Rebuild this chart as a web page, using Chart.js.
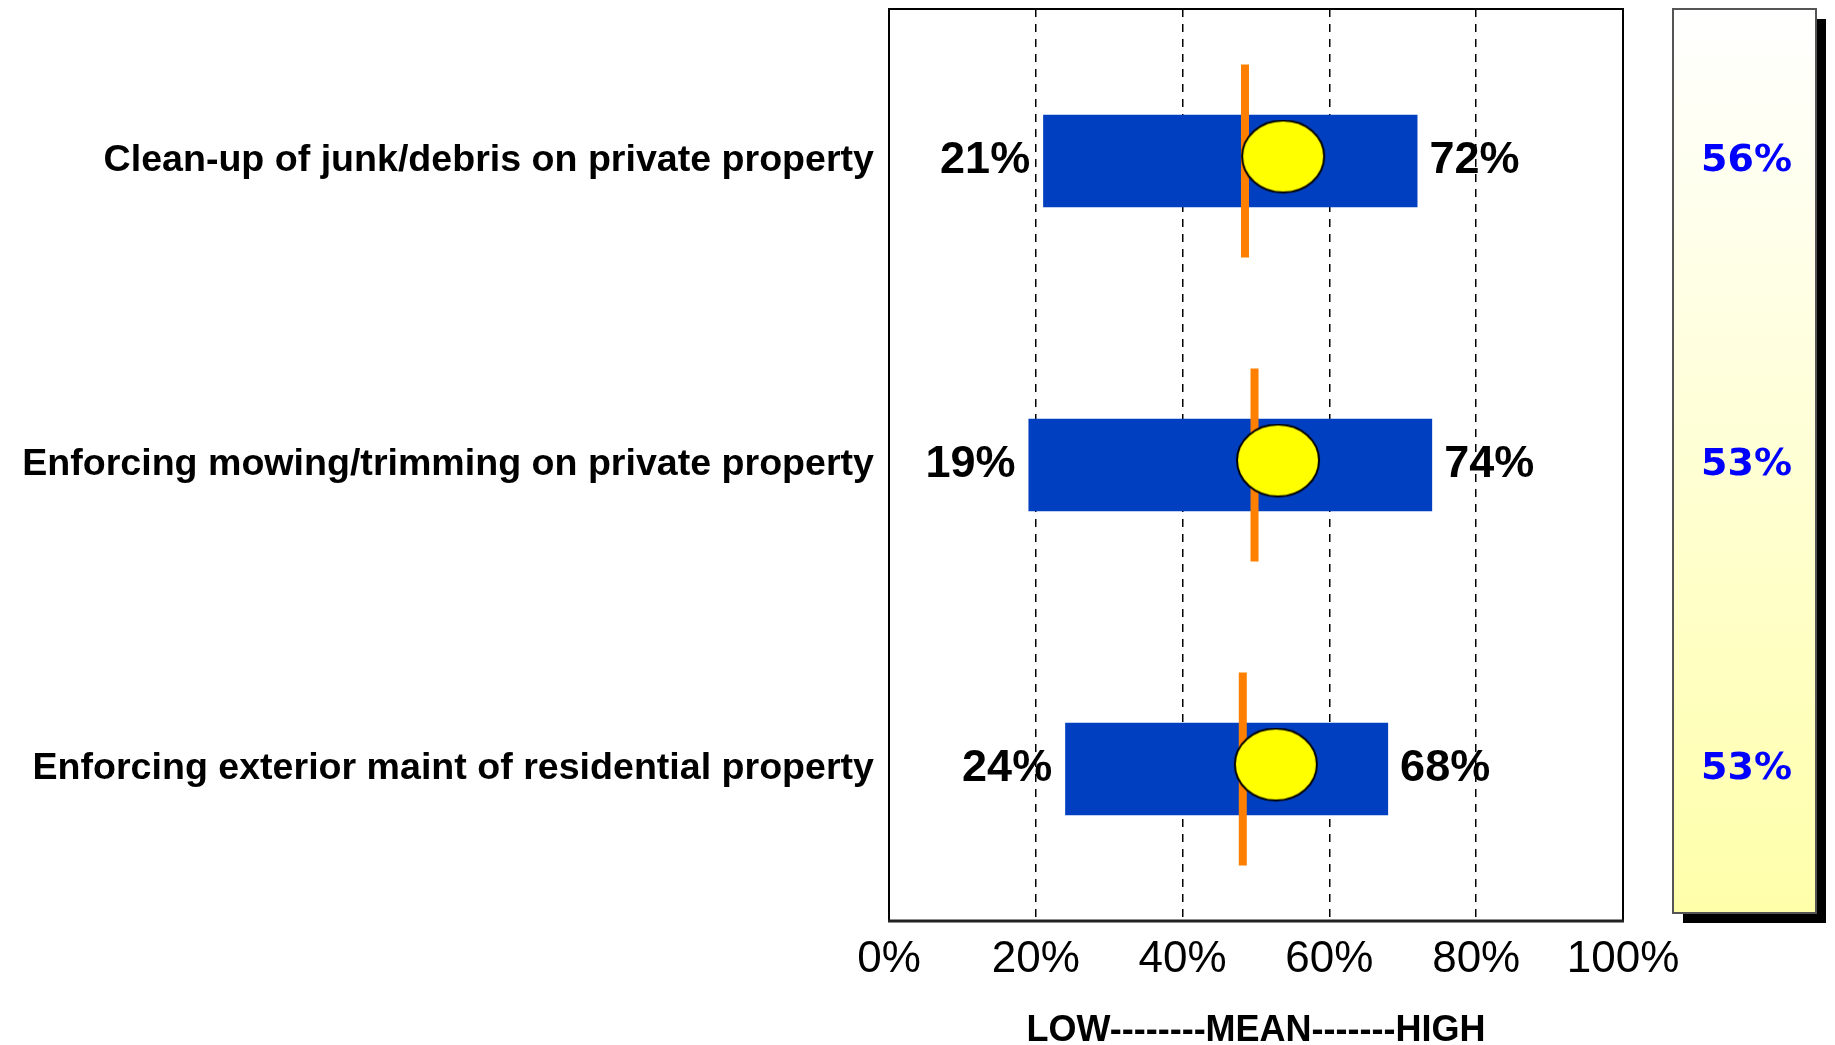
<!DOCTYPE html>
<html>
<head>
<meta charset="utf-8">
<script src="https://cdn.jsdelivr.net/npm/chart.js@4.4.0/dist/chart.umd.min.js"></script>
<style>
  html, body { margin: 0; padding: 0; background: #fff; }
  canvas { display: block; }
</style>
</head>
<body>
<canvas id="chart" width="1835" height="1045"></canvas>
<script>
// données
const categories = [
    "Clean-up of junk/debris on private property",
    "Enforcing mowing/trimming on private property",
    "Enforcing exterior maint of residential property"
];
const lowVals = [21, 19, 24];
const highVals = [72, 74, 68];
const meanVals = [53.7, 53.0, 52.7];     // ellipse jaune
const medianVals = [48.5, 49.8, 48.2];   // trait orange
const panelVals = [56, 53, 53];          // panneau de droite
const xTickVals = [0, 20, 40, 60, 80, 100];
const axisTitle = "LOW--------MEAN-------HIGH";

const FONT = "'Liberation Sans', Arial, sans-serif";

// marqueur ellipse (pointStyle image), un peu au-dessus du centre
const dot = document.createElement("canvas");
dot.width = 86;
dot.height = 83;
const dctx = dot.getContext("2d");
dctx.beginPath();
dctx.ellipse(43, 37, 41, 36, 0, 0, Math.PI * 2);
dctx.fillStyle = "#FFFF00";
dctx.fill();
dctx.lineWidth = 2;
dctx.strokeStyle = "#000";
dctx.stroke();

// cadre, étiquettes low/high et panneau
const extras = {
    id: "extras",
    afterDraw(chart) {
        const { ctx, chartArea: a, scales: { x, y } } = chart;
        ctx.save();

        ctx.strokeStyle = "#000";
        ctx.lineWidth = 2;
        ctx.strokeRect(a.left, a.top, a.right - a.left, a.bottom - a.top);
        ctx.lineWidth = 3;
        ctx.strokeStyle = "#222";
        ctx.beginPath();
        ctx.moveTo(a.left - 1, a.bottom);
        ctx.lineTo(a.right + 1, a.bottom);
        ctx.stroke();

        ctx.font = `bold 45px ${FONT}`;
        ctx.fillStyle = "#000";
        ctx.textBaseline = "middle";
        categories.forEach((c, i) => {
            const yy = y.getPixelForValue(i);
            ctx.textAlign = "right";
            ctx.fillText(lowVals[i] + "%", x.getPixelForValue(lowVals[i]) - 13, yy);
            ctx.textAlign = "left";
            ctx.fillText(highVals[i] + "%", x.getPixelForValue(highVals[i]) + 12, yy);
        });

        // panneau dégradé avec ombre
        const pl = a.right + 50, pw = 143, pt = a.top, ph = a.bottom - 8 - a.top;
        ctx.fillStyle = "#000";
        ctx.fillRect(pl + 10, pt + 10, pw, ph);
        const g = ctx.createLinearGradient(0, pt, 0, pt + ph);
        g.addColorStop(0, "#FFFFFF");
        g.addColorStop(1, "#FFFFAA");
        ctx.fillStyle = g;
        ctx.fillRect(pl, pt, pw, ph);
        ctx.strokeStyle = "#555";
        ctx.lineWidth = 2;
        ctx.strokeRect(pl, pt, pw, ph);

        ctx.font = "bold 38px 'DejaVu Sans', Verdana, sans-serif";
        ctx.fillStyle = "#0000FF";
        ctx.textAlign = "center";
        panelVals.forEach((v, i) => {
            ctx.fillText(v + "%", pl + pw / 2 + 2, y.getPixelForValue(i));
        });

        ctx.restore();
    }
};

new Chart(document.getElementById("chart"), {
    type: "bar",
    data: {
        labels: categories,
        datasets: [
            {
                type: "bar",
                data: categories.map((_, i) => [lowVals[i], highVals[i]]),
                backgroundColor: "#0040C0",
                borderWidth: 0,
                categoryPercentage: 1,
                barPercentage: 0.305,
                order: 3
            },
            {
                type: "line",
                data: medianVals,
                showLine: false,
                pointStyle: "line",
                pointRadius: 96.5,
                pointRotation: 90,
                pointBorderWidth: 8,
                pointBorderColor: "#FF8000",
                pointBackgroundColor: "#FF8000",
                order: 2
            },
            {
                type: "line",
                data: meanVals,
                showLine: false,
                pointStyle: dot,
                pointRadius: 40,
                order: 1
            }
        ]
    },
    options: {
        indexAxis: "y",
        responsive: false,
        animation: false,
        events: [],
        layout: { autoPadding: false, padding: { top: 9, right: 212, left: 0, bottom: 0 } },
        plugins: { legend: { display: false }, tooltip: { enabled: false } },
        scales: {
            x: {
                min: 0,
                max: 100,
                afterBuildTicks: s => { s.ticks = xTickVals.map(v => ({ value: v })); },
                ticks: {
                    callback: v => v + "%",
                    color: "#000",
                    font: { family: FONT, size: 44 },
                    padding: 12,
                    maxRotation: 0,
                    autoSkip: false
                },
                grid: {
                    color: c => (c.tick && (c.tick.value === 0 || c.tick.value === 100)) ? "rgba(0,0,0,0)" : "#000",
                    lineWidth: 1.5,
                    drawTicks: false
                },
                border: { display: false, dash: [8, 7] },
                title: {
                    display: true,
                    text: axisTitle,
                    color: "#000",
                    font: { family: FONT, size: 36, weight: "bold", lineHeight: 0.8 },
                    padding: 0
                },
                afterFit: s => { s.height = 124; }
            },
            y: {
                grid: { display: false, drawTicks: false },
                border: { display: false },
                ticks: {
                    color: "#000",
                    font: { family: FONT, size: 37.6, weight: "bold" },
                    padding: 15,
                    autoSkip: false
                },
                afterFit: s => {
                    s.width = 889;
                    s.paddingTop = 0;
                    s.paddingBottom = 0;
                }
            }
        }
    },
    plugins: [extras]
});
</script>
</body>
</html>
